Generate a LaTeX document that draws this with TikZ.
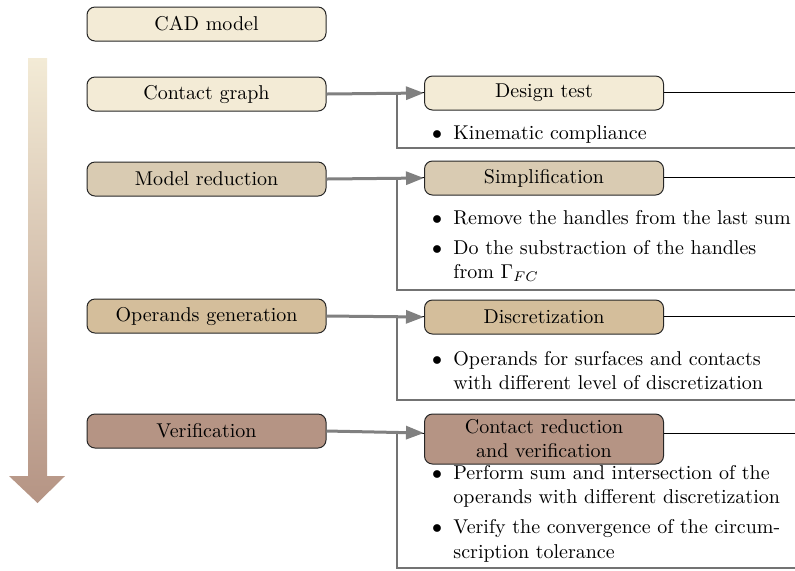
\documentclass[tikz,border=0pt]{standalone}
\usetikzlibrary{arrows.meta}
\definecolor{stageA}{RGB}{243,235,214}
\definecolor{stageB}{RGB}{217,203,178}
\definecolor{stageC}{RGB}{212,190,155}
\definecolor{stageD}{RGB}{181,148,132}
\definecolor{flowgray}{RGB}{128,128,128}
\begin{document}
\begin{tikzpicture}[x=0.5pt,y=-0.5pt,
  stage/.style={draw=black!85, rounded corners=4pt, minimum width=119.5pt,
    minimum height=17pt, inner xsep=2pt, inner ysep=2pt, line width=0.5pt, align=center},
  flow/.style={draw=flowgray, line width=1.5pt, -{Triangle[length=9pt,width=6.5pt]}},
  frametop/.style={draw=black, line width=0.5pt},
  frameside/.style={draw=black!55, line width=0.9pt},
  item/.style={anchor=base west, inner sep=0pt},
  dot/.style={anchor=base, inner sep=0pt}]
\useasboundingbox (0,0) rectangle (795,570);

% progress arrow on the left
\shade[top color=stageA, bottom color=stageD]
  (28,58) -- (47,58) -- (47,476) -- (65,476) -- (37.5,503) -- (9,476) -- (28,476) -- cycle;

% open frames around each task and its notes
\coordinate (f1) at (397,92);  \coordinate (e1) at (795,92);  \coordinate (b1) at (795,148);
\coordinate (f2) at (397,177); \coordinate (e2) at (795,177); \coordinate (b2) at (795,290);
\coordinate (f3) at (397,316); \coordinate (e3) at (795,316); \coordinate (b3) at (795,400);
\coordinate (f4) at (397,433); \coordinate (e4) at (795,433); \coordinate (b4) at (795,568);
\foreach \i in {1,2,3,4}{
  \draw[frametop] (f\i) -- (e\i);
  \draw[frameside] (f\i) |- (b\i);
}

% pipeline stages
\node[stage, fill=stageA] (cad) at (206.5,24)  {CAD model};
\node[stage, fill=stageA] (cg)  at (206.5,94)  {Contact graph};
\node[stage, fill=stageB] (mr)  at (206.5,179) {Model reduction};
\node[stage, fill=stageC] (og)  at (206.5,316) {Operands generation};
\node[stage, fill=stageD] (ve)  at (206.5,431) {Verification};

% tasks
\node[stage, fill=stageA] (dt) at (544,93)  {Design test};
\node[stage, fill=stageB] (si) at (544,178) {Simplification};
\node[stage, fill=stageC] (di) at (544,317) {Discretization};
\node[stage, fill=stageD, minimum height=25pt] (cr) at (544,439) {Contact reduction\\and verification};

% stage -> task
\draw[flow] (cg.east) -- (dt.west);
\draw[flow] (mr.east) -- (si.west);
\draw[flow] (og.east) -- (di.west);
\draw[flow] (ve.east) -- (f4 -| cr.west);

% notes
\node[dot] (d1) at (437,139) {$\bullet$};
\node[item] (t1) at (453,139) {Kinematic compliance};

\node[dot] (d2) at (437,224) {$\bullet$};
\node[item] (t2) at (453,224) {Remove the handles from the last sum};
\node[dot] (d3) at (437,254) {$\bullet$};
\node[item] (t3a) at (453,254) {Do the substraction of the handles};
\node[item] (t3b) at (453,278) {from $\Gamma_{FC}$};

\node[dot] (d4) at (437,365) {$\bullet$};
\node[item] (t4a) at (453,365) {Operands for surfaces and contacts};
\node[item] (t4b) at (453,389) {with different level of discretization};

\node[dot] (d5) at (437,479) {$\bullet$};
\node[item] (t5a) at (453,479) {Perform sum and intersection of the};
\node[item] (t5b) at (453,503) {operands with different discretization};
\node[dot] (d6) at (437,533) {$\bullet$};
\node[item] (t6a) at (453,533) {Verify the convergence of the circum-};
\node[item] (t6b) at (453,558) {scription tolerance};
\end{tikzpicture}
\end{document}
